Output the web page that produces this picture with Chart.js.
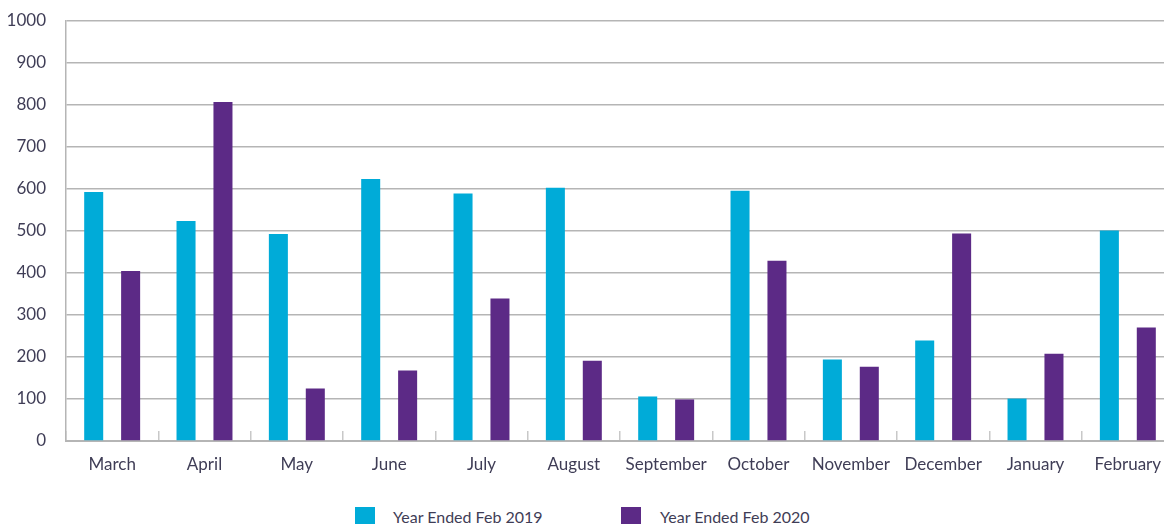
<!DOCTYPE html>
<html>
<head>
<meta charset="utf-8">
<script src="https://cdn.jsdelivr.net/npm/chart.js@4"></script>
<style>
  html, body { margin: 0; padding: 0; background: #ffffff; overflow: hidden; width: 1164px; height: 524px; }
  #c { position: absolute; left: 0; top: 0; }
  .leg { position: absolute; top: 507px; height: 20px; font-family: Lato, sans-serif; font-size: 16px; color: #3f3d56; }
  .leg .box { position: absolute; left: 0; top: 0; width: 20px; height: 20px; }
  .leg .txt { position: absolute; top: 0px; line-height: 20px; white-space: nowrap; }
</style>
</head>
<body>
<canvas id="c" width="1175" height="480" style="width:1175px;height:480px"></canvas>
<div class="leg" style="left:355px"><div class="box" style="background:#00ABD8"></div><div class="txt" id="l0" style="left:38px"></div></div>
<div class="leg" style="left:621px"><div class="box" style="background:#5C2A86"></div><div class="txt" id="l1" style="left:39px"></div></div>
<script>
const categories = ["March","April","May","June","July","August","September","October","November","December","January","February"];
const seriesNames = ["Year Ended Feb 2019","Year Ended Feb 2020"];
const values2019 = [593, 524, 493, 624, 589, 603, 106, 596, 194, 239, 101, 501];
const values2020 = [405, 807, 125, 168, 339, 191, 99, 429, 177, 494, 208, 270];
const yTicks = [0,100,200,300,400,500,600,700,800,900,1000];
const colors = ["#00ABD8", "#5C2A86"];

document.getElementById('l0').textContent = seriesNames[0];
document.getElementById('l1').textContent = seriesNames[1];

const textColor = '#3f3d56';
const gridColor = '#b5b5b5';

new Chart(document.getElementById('c'), {
  type: 'bar',
  data: {
    labels: categories,
    datasets: [
      { label: seriesNames[0], data: values2019, backgroundColor: colors[0], categoryPercentage: 0.80, barPercentage: 0.515 },
      { label: seriesNames[1], data: values2020, backgroundColor: colors[1], categoryPercentage: 0.80, barPercentage: 0.515 }
    ]
  },
  options: {
    responsive: false,
    animation: false,
    devicePixelRatio: 1,
    layout: { padding: { top: 21, right: 1, bottom: 0, left: 0 } },
    plugins: { legend: { display: false }, tooltip: { enabled: false } },
    scales: {
      x: {
        offset: true,
        grid: { offset: true, drawOnChartArea: false, drawTicks: true, tickLength: -10, color: '#c8c8c8', lineWidth: 1.5 },
        border: { display: true, color: gridColor, width: 2 },
        ticks: { color: textColor, font: { family: 'Lato', size: 17 }, padding: 23, maxRotation: 0, autoSkip: false },
        afterFit: s => { s.height = 39; s.paddingLeft = 0; s.paddingRight = 0; }
      },
      y: {
        min: 0, max: 1000,
        afterBuildTicks: s => { s.ticks = yTicks.map(v => ({ value: v })); },
        grid: { color: gridColor, lineWidth: 1.5, drawTicks: false },
        border: { display: true, color: gridColor, width: 1.5 },
        ticks: { color: textColor, font: { family: 'Lato', size: 17 }, padding: 20, callback: v => String(v) },
        afterFit: s => { s.width = 66; s.paddingTop = 0; s.paddingBottom = 0; }
      }
    }
  }
});
</script>
</body>
</html>
